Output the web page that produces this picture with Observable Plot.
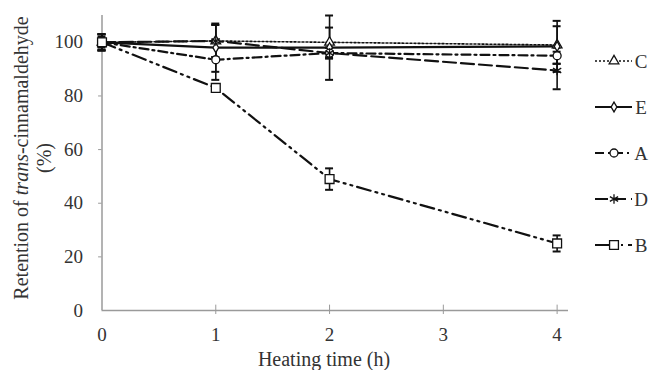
<!DOCTYPE html>
<html>
<head>
<meta charset="utf-8">
<script src="https://cdn.jsdelivr.net/npm/d3@7"></script>
<script src="https://cdn.jsdelivr.net/npm/@observablehq/plot@0.6"></script>
<style>
  html, body { margin: 0; padding: 0; background: #fff; }
  #chart { width: 654px; height: 370px; overflow: hidden; }
</style>
</head>
<body>
<div id="chart"></div>
<script>
// ---- data ----
const times = [0, 1, 2, 4];
const seriesNames = ["C", "E", "A", "D", "B"];
const valC = [100, 100.5, 100, 99];
const valE = [100, 98, 98, 98.5];
const valA = [100, 93.5, 96, 95];
const valD = [100, 100.5, 96, 89.5];
const valB = [100, 83, 49, 25];
const errC = [3, 6, 5.5, 7];
const errE = [3, 9, 12, 9.5];
const errA = [3, 7.5, 2, 3];
const errD = [3, 6, 2, 7];
const errB = [2, 1, 4, 3];
const xTicks = [0, 1, 2, 3, 4];
const yTicks = [0, 20, 40, 60, 80, 100];
const xTitle = "Heating time (h)";

// ---- styles ----
const dashes = { C: "2,2", E: null, A: "9,4,2,4", D: "13,5", B: "14,5,2,5,2,5" };
const widths = { C: 1.6, E: 2.2, A: 2.2, D: 2.2, B: 2.2 };
const symbols = { C: "triangle", E: "diamond", A: "circle", D: "asterisk", B: "square" };
const radii = { C: 3.6, E: 3, A: 4, D: 4.5, B: 5 };

const values = { C: valC, E: valE, A: valA, D: valD, B: valB };
const errs = { C: errC, E: errE, A: errA, D: errD, B: errB };
const rows = seriesNames.flatMap(s => times.map((t, j) => ({ s, t, v: values[s][j], e: errs[s][j] })));

const ink = "#111";
const axisGray = "#9a9a9a";
const textCol = "#333";
const capW = 0.035;

const marks = [
  Plot.ruleY([0], { stroke: axisGray, strokeWidth: 1.5 }),
  Plot.ruleX([0], { stroke: axisGray, strokeWidth: 1.5 }),
  Plot.ruleY(yTicks.filter(d => d > 0), { y: d => d, x1: -0.03, x2: 0, stroke: axisGray }),
  Plot.ruleX(xTicks.filter(d => d > 0), { x: d => d, y1: -1.5, y2: 2, stroke: axisGray }),
  Plot.axisX({ ticks: xTicks, tickFormat: d3.format("d"), tickSize: 0, tickPadding: 17, fontSize: 19, fill: textCol, label: null }),
  Plot.axisY({ ticks: yTicks, tickFormat: d3.format("d"), tickSize: 0, tickPadding: 19, fontSize: 19, fill: textCol, label: null }),
  // error bars
  Plot.ruleX(rows, { x: "t", y1: d => d.v - d.e, y2: d => d.v + d.e, stroke: ink, strokeWidth: 1.6 }),
  Plot.ruleY(rows, { y: d => d.v + d.e, x1: d => d.t - capW, x2: d => d.t + capW, stroke: ink, strokeWidth: 2 }),
  Plot.ruleY(rows, { y: d => d.v - d.e, x1: d => d.t - capW, x2: d => d.t + capW, stroke: ink, strokeWidth: 2 })
];
for (const s of seriesNames) {
  marks.push(Plot.line(rows.filter(d => d.s === s), {
    x: "t", y: "v", stroke: ink, strokeWidth: widths[s],
    strokeDasharray: dashes[s] || undefined
  }));
}
for (const s of seriesNames) {
  marks.push(Plot.dot(rows.filter(d => d.s === s), {
    x: "t", y: "v", symbol: () => symbols[s], r: radii[s],
    fill: "white", stroke: ink, strokeWidth: 1.3
  }));
}

const plot = Plot.plot({
  width: 654,
  height: 370,
  marginLeft: 101.5,
  marginRight: 86,
  marginTop: 15,
  marginBottom: 60,
  x: { domain: [0, 4.1], label: null },
  y: { domain: [0, 110], label: null },
  style: { fontFamily: "'Liberation Serif', 'DejaVu Serif', serif", background: "white", overflow: "visible" },
  marks
});
document.getElementById("chart").appendChild(plot);

// ---- titles & legend drawn with d3 into the same svg ----
const svg = d3.select(plot);
const font = "'Liberation Serif', 'DejaVu Serif', serif";

svg.append("text")
  .attr("x", 324).attr("y", 366)
  .attr("text-anchor", "middle")
  .attr("font-family", font).attr("font-size", 20).attr("fill", textCol)
  .text(xTitle);

const yt = svg.append("text")
  .attr("transform", "translate(28,158) rotate(-90)")
  .attr("text-anchor", "middle")
  .attr("font-family", font).attr("font-size", 20).attr("fill", textCol);
yt.append("tspan").text("Retention of ");
yt.append("tspan").attr("font-style", "italic").text("trans");
yt.append("tspan").text("-cinnamaldehyde");
svg.append("text")
  .attr("transform", "translate(51,158) rotate(-90)")
  .attr("text-anchor", "middle")
  .attr("font-family", font).attr("font-size", 20).attr("fill", textCol)
  .text("(%)");

// legend
const legendY0 = 61, legendStep = 46;
const lg = svg.append("g");
seriesNames.forEach((s, i) => {
  const y = legendY0 + i * legendStep;
  lg.append("line")
    .attr("x1", 595).attr("x2", 632).attr("y1", y).attr("y2", y)
    .attr("stroke", ink).attr("stroke-width", widths[s])
    .attr("stroke-dasharray", dashes[s] || null);
  const sym = { triangle: d3.symbolTriangle, diamond: d3.symbolDiamond, circle: d3.symbolCircle, asterisk: d3.symbolAsterisk, square: d3.symbolSquare }[symbols[s]];
  const r = radii[s];
  lg.append("path")
    .attr("d", d3.symbol(sym, Math.PI * r * r)())
    .attr("transform", `translate(614,${y})`)
    .attr("fill", "white").attr("stroke", ink).attr("stroke-width", 1.3);
  lg.append("text")
    .attr("x", 641).attr("y", y).attr("dy", "0.35em")
    .attr("font-family", font).attr("font-size", 19).attr("fill", textCol)
    .text(s);
});
</script>
</body>
</html>
